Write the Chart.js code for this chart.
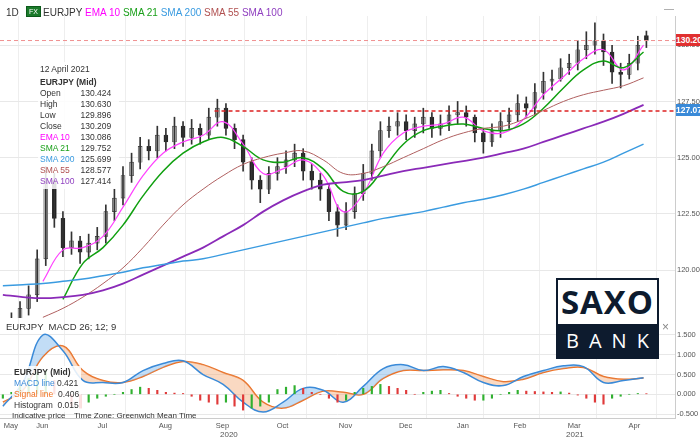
<!DOCTYPE html>
<html><head><meta charset="utf-8">
<script src="https://cdn.jsdelivr.net/npm/chart.js@4"></script>
<style>
body{margin:0;width:700px;height:440px;position:relative;background:#fff;font-family:"Liberation Sans",Arial,sans-serif;overflow:hidden}
#c{position:absolute;left:0;top:0}
.t{position:absolute;font-size:10px;color:#333;white-space:nowrap}
.box{position:absolute;background:rgba(255,255,255,0.85);font-size:8.5px;line-height:11px;color:#333;white-space:nowrap}
.box td{padding:0 6px 0 0;white-space:nowrap}
</style></head><body>
<canvas id="c" width="700" height="440"></canvas>
<div class="t" style="left:6px;top:7px">1D</div>
<div class="t" style="left:26px;top:6px;background:#1a7a2a;color:#fff;font-size:7px;padding:1px 2px;border:1px solid #0b5a1a">FX</div>
<div class="t" style="left:43px;top:7px">EURJPY <span style="color:#f0f">EMA 10</span> <span style="color:#1aa01a">SMA 21</span> <span style="color:#3a9be0">SMA 200</span> <span style="color:#b05050">SMA 55</span> <span style="color:#9040c0">SMA 100</span></div>
<div class="t" style="left:664px;top:3px;color:#999">—</div>
<div class="box" style="left:38px;top:62px;padding:2px">
<div>12 April 2021</div><div style="font-weight:bold;margin-top:2px">EURJPY (Mid)</div>
<table cellspacing="0" cellpadding="0" style="font-size:8.5px;line-height:11px">
<tr><td>Open</td><td>130.424</td></tr><tr><td>High</td><td>130.630</td></tr><tr><td>Low</td><td>129.896</td></tr><tr><td>Close</td><td>130.209</td></tr>
<tr style="color:#f0f"><td>EMA 10</td><td style="color:#333">130.086</td></tr>
<tr style="color:#1aa01a"><td>SMA 21</td><td style="color:#333">129.752</td></tr>
<tr style="color:#3a9be0"><td>SMA 200</td><td style="color:#333">125.699</td></tr>
<tr style="color:#b05050"><td>SMA 55</td><td style="color:#333">128.577</td></tr>
<tr style="color:#9040c0"><td>SMA 100</td><td style="color:#333">127.414</td></tr></table></div>
<div class="t" style="left:6px;top:321px;font-size:9.5px">EURJPY &nbsp;MACD 26; 12; 9</div>
<div class="t" style="left:662px;top:320px;color:#888;font-size:12px">×</div>
<div class="box" style="left:12px;top:366px;padding:1px 2px">
<div style="font-weight:bold">EURJPY (Mid)</div>
<div><span style="color:#3a8ad8">MACD line</span> 0.421</div>
<div><span style="color:#f07020">Signal line</span> &nbsp;0.406</div>
<div>Histogram &nbsp;0.015</div></div>
<div class="t" style="left:12px;top:411px;font-size:8px">Indicative price &nbsp;&nbsp; Time Zone: Greenwich Mean Time</div>
<div class="t" style="left:220px;top:430px;font-size:8px;color:#555">2020</div>
<div class="t" style="left:566px;top:430px;font-size:8px;color:#555">2021</div>
<div style="position:absolute;left:676px;top:34px;width:24px;height:12px;background:#e03030;color:#fff;font-size:8.5px;font-weight:bold;line-height:12px;overflow:hidden">130.209</div>
<div style="position:absolute;left:676px;top:104px;width:24px;height:12px;background:#3a8ad8;color:#fff;font-size:8.5px;font-weight:bold;line-height:12px;overflow:hidden">127.071</div>
<div style="position:absolute;left:556px;top:278px;width:99px;height:77px;border:2px solid #0d1b2e;background:#fff">
<div style="height:44px;text-align:center;font-size:33px;font-weight:bold;color:#0d1b2e;line-height:44px;font-family:'Open Sans',sans-serif;letter-spacing:1px">SAXO</div>
<div style="height:33px;background:#0d1b2e;color:#fff;text-align:center;font-size:20px;line-height:33px;letter-spacing:10px;padding-left:8px;font-family:'Open Sans',sans-serif">BANK</div></div>
<script>
// candles every 3 trading days from 1 May 2020
const candleDays=[0,3,6,9,12,15,18,21,24,27,30,33,36,39,42,45,48,51,54,57,60,63,66,69,72,75,78,81,84,87,90,93,96,99,102,105,108,111,114,117,120,123,126,129,132,135,138,141,144,147,150,153,156,159,162,165,168,171,174,177,180,183,186,189,192,195,198,201,204,207,210,213,216,219,222,225];
const opens=[117.0,117.4,117.8,118.3,118.9,120.5,124.0,122.3,121.0,121.3,120.8,121.2,121.5,122.6,123.2,124.2,124.8,125.5,125.3,126.0,125.7,126.4,125.9,126.3,126.0,126.8,127.2,126.3,125.8,124.8,124.0,123.6,124.3,124.6,124.9,125.2,124.4,124.0,123.6,122.6,122.0,122.6,123.4,124.3,125.3,126.2,126.4,126.6,126.2,126.5,126.8,126.3,126.5,126.9,127.0,126.8,126.1,125.7,126.2,126.6,126.9,127.4,127.2,127.9,128.4,128.5,129.0,129.2,129.8,130.0,130.2,129.7,128.8,128.7,129.2,130.424];
const highs=[117.7,118.1,118.6,119.3,120.9,124.6,124.3,122.6,121.7,121.5,121.6,121.9,122.9,123.6,124.6,125.2,125.9,125.8,126.4,126.3,126.8,126.6,126.7,126.5,127.2,127.6,127.4,126.5,126.0,125.0,124.2,124.6,125.0,125.3,125.6,125.4,124.7,124.3,123.8,122.9,123.0,123.7,124.7,125.6,126.6,126.8,127.0,126.9,126.8,127.2,127.0,126.9,127.3,127.5,127.3,126.9,126.3,126.5,127.0,127.2,127.8,127.7,128.3,128.8,128.9,129.4,129.6,130.2,130.6,131.0,130.5,130.0,129.2,129.6,130.4,130.63];
const lows=[116.8,117.1,117.5,118.0,118.6,120.2,121.9,120.6,120.7,120.3,120.5,120.9,121.2,122.2,122.9,123.9,124.5,124.9,125.0,125.3,125.4,125.5,125.6,125.6,125.8,126.4,126.0,125.4,124.4,123.6,123.0,123.4,124.0,124.3,124.6,124.0,123.6,123.1,122.2,121.5,121.8,122.3,123.1,124.0,125.0,125.9,126.0,125.8,125.9,126.1,125.9,126.0,126.2,126.5,126.4,125.7,125.2,125.5,125.9,126.3,126.6,126.8,126.9,127.6,128.0,128.4,128.7,128.9,129.4,129.6,129.1,128.3,128.1,128.5,128.9,129.896];
const closes=[117.4,117.8,118.3,118.9,120.5,124.0,122.3,121.0,121.3,120.8,121.2,121.5,122.6,123.2,124.2,124.8,125.5,125.3,126.0,125.7,126.4,125.9,126.3,126.0,126.8,127.2,126.3,125.8,124.8,124.0,123.6,124.3,124.6,124.9,125.2,124.4,124.0,123.6,122.6,122.0,122.6,123.4,124.3,125.3,126.2,126.4,126.6,126.2,126.5,126.8,126.3,126.5,126.9,127.0,126.8,126.1,125.7,126.2,126.6,126.9,127.4,127.2,127.9,128.4,128.5,129.0,129.2,129.8,130.0,130.2,129.7,128.8,128.7,129.2,130.0,130.209];
const histogram=[-0.1,0.05,0.2,0.4,0.55,0.6,0.35,0.0,-0.3,-0.35,-0.2,-0.1,-0.05,0.0,0.05,0.12,0.18,0.15,0.1,0.05,0.03,0.02,-0.05,-0.15,-0.2,-0.25,-0.2,-0.3,-0.4,-0.35,-0.3,-0.2,0.12,0.18,0.22,0.15,0.05,0.0,-0.1,-0.2,-0.15,0.05,0.15,0.2,0.25,0.2,0.15,0.1,0.0,0.05,0.08,0.1,0.02,-0.05,-0.1,-0.15,-0.15,-0.1,0.0,0.05,0.1,0.08,0.07,0.06,0.05,0.06,0.03,-0.02,-0.1,-0.2,-0.25,-0.1,-0.05,0.0,0.02,0.015];
// weekly indicator samples
const weekDays=[0,7,14,21,28,35,42,49,56,63,70,77,84,91,98,105,112,119,126,133,140,147,154,161,168,175,182,189,196,203,210,217,224];
const sma200=[119.3,119.35,119.4,119.5,119.6,119.75,119.9,120.1,120.25,120.4,120.5,120.7,120.9,121.1,121.3,121.5,121.7,121.9,122.1,122.3,122.45,122.6,122.8,123.0,123.15,123.35,123.6,123.9,124.2,124.5,124.8,125.2,125.6];
const sma100=[118.9,118.8,118.75,118.8,118.9,119.1,119.4,119.8,120.2,120.6,121.0,121.5,122.0,122.6,123.1,123.5,123.8,123.9,124.0,124.2,124.4,124.55,124.7,124.85,125.0,125.2,125.4,125.7,126.0,126.3,126.6,126.95,127.35];
const sma55=[null,null,117.9,118.3,118.8,119.4,120.1,121.0,122.0,122.9,123.6,124.2,124.7,125.0,125.2,125.3,124.9,124.3,124.3,124.6,125.0,125.4,125.8,126.1,126.3,126.4,126.7,127.1,127.5,127.8,128.0,128.2,128.55];
const sma21=[null,null,null,118.7,120.3,121.0,122.0,123.3,124.4,125.2,125.7,125.9,125.5,124.9,124.8,125.0,124.5,123.5,123.5,124.5,125.6,126.2,126.4,126.5,126.3,126.2,126.5,127.2,128.1,128.9,129.3,129.0,129.7];
const ema10=[null,null,119.5,120.9,121.0,121.5,122.8,124.2,125.2,125.7,126.0,126.6,125.6,124.3,124.5,124.9,124.2,122.6,123.4,125.2,126.1,126.4,126.5,126.8,126.2,126.1,126.7,127.8,128.6,129.4,129.8,128.9,130.0];
const macdLine=[-0.3,0.3,1.5,1.1,0.35,0.3,0.3,0.6,0.78,0.85,0.5,0.25,-0.2,-0.45,-0.2,0.15,0.1,-0.2,0.2,0.65,0.75,0.6,0.7,0.55,0.3,0.22,0.45,0.6,0.72,0.7,0.3,0.35,0.42];
const signalLine=[-0.2,0.1,0.95,1.22,0.6,0.35,0.3,0.45,0.68,0.83,0.75,0.55,0.35,-0.2,-0.35,-0.15,0.08,0.05,0.0,0.4,0.6,0.6,0.62,0.6,0.45,0.32,0.38,0.55,0.65,0.68,0.45,0.38,0.41];
const monthDays=[0,11,32,54,74,95,117,138,158,178,197,218];
const monthLabels=['May','Jun','Jul','Aug','Sep','Oct','Nov','Dec','Jan','Feb','Mar','Apr'];
const priceTicks=[120,122.5,125,127.5,130];
const macdTicks=[-0.5,0,0.5,1,1.5];
const lastClose=130.209, resistance=127.071, resistanceStartDay=74;

const pts=(d,v)=>d.map((x,i)=>({x,y:v[i]}));
const line=(label,vals,color,w)=>({type:'line',label,data:pts(weekDays,vals),borderColor:color,borderWidth:w||1.2,pointRadius:0,tension:0.4,yAxisID:'y',spanGaps:false});
const up=candleDays.map((d,i)=>closes[i]>=opens[i]);
const ds=[
 {type:'line',data:[{x:-1,y:lastClose},{x:235,y:lastClose}],borderColor:'#f09090',borderDash:[4,3],borderWidth:1,pointRadius:0,yAxisID:'y'},
 {type:'line',data:[{x:resistanceStartDay,y:resistance},{x:235,y:resistance}],borderColor:'#dd2020',borderDash:[4,3],borderWidth:1.5,pointRadius:0,yAxisID:'y'},
 line('SMA 200',sma200,'#3a9be0',1.5),
 line('SMA 100',sma100,'#8a2ab8',1.8),
 line('SMA 55',sma55,'#b06060',1),
 line('SMA 21',sma21,'#10a010',1.5),
 line('EMA 10',ema10,'#ff40ff',1.2),
 {type:'bar',data:candleDays.map((d,i)=>({x:d,y:[lows[i],highs[i]]})),backgroundColor:'#333',barThickness:1,grouped:false,yAxisID:'y'},
 {type:'bar',data:candleDays.map((d,i)=>({x:d,y:[Math.min(opens[i],closes[i]),Math.max(opens[i],closes[i])]})),backgroundColor:up.map(u=>u?'#bbb':'#222'),borderColor:'#333',borderWidth:0.6,barThickness:4,grouped:false,yAxisID:'y',borderSkipped:false},
 {type:'bar',data:pts(candleDays,histogram),backgroundColor:histogram.map((v,i)=>i>0&&v<histogram[i-1]?'#e03a3a':'#30b030'),barThickness:1.5,grouped:false,yAxisID:'m'},
 {type:'line',data:pts(weekDays,macdLine),borderColor:'#3a8ad8',borderWidth:1.5,pointRadius:0,tension:0.4,yAxisID:'m',fill:{target:11,above:'rgba(120,180,235,0.45)',below:'rgba(245,170,120,0.45)'}},
 {type:'line',data:pts(weekDays,signalLine),borderColor:'#f07020',borderWidth:1.5,pointRadius:0,tension:0.4,yAxisID:'m'}
];
const tickFont={size:7.5,family:'Liberation Sans'};
new Chart(document.getElementById('c'),{
 data:{datasets:ds},
 options:{responsive:false,animation:false,events:[],
  layout:{padding:{top:16,left:0,right:0,bottom:0}},
  plugins:{legend:{display:false},tooltip:{enabled:false}},
  scales:{
   x:{type:'linear',offset:false,min:-1,max:235,grid:{color:'#eeeeee',drawTicks:false},border:{color:'#ccc'},
      afterBuildTicks:s=>{s.ticks=monthDays.map(v=>({value:v}));},
      afterFit:s=>{s.height=22;s.paddingLeft=0;s.paddingRight=0;},
      ticks:{font:tickFont,color:'#555',maxRotation:0,autoSkip:false,labelOffset:8,padding:3,callback:(v)=>monthLabels[monthDays.indexOf(v)]}},
   y:{type:'linear',position:'right',stack:'p',stackWeight:302,min:117.87,max:131.3,grid:{color:'#e8e8e8',drawTicks:false},border:{color:'#ccc'},
      afterBuildTicks:s=>{s.ticks=priceTicks.map(v=>({value:v}));},
      afterFit:s=>{s.width=25;},
      ticks:{font:tickFont,color:'#555',padding:2,callback:v=>v.toFixed(3)}},
   m:{type:'linear',position:'right',stack:'p',stackWeight:100,min:-0.6,max:1.93,grid:{color:'#e8e8e8',drawTicks:false},border:{color:'#ccc'},
      afterBuildTicks:s=>{s.ticks=macdTicks.map(v=>({value:v}));},
      afterFit:s=>{s.width=25;},
      ticks:{font:tickFont,color:'#555',padding:2,callback:v=>v.toFixed(3)}}
  }}
});
</script></body></html>
